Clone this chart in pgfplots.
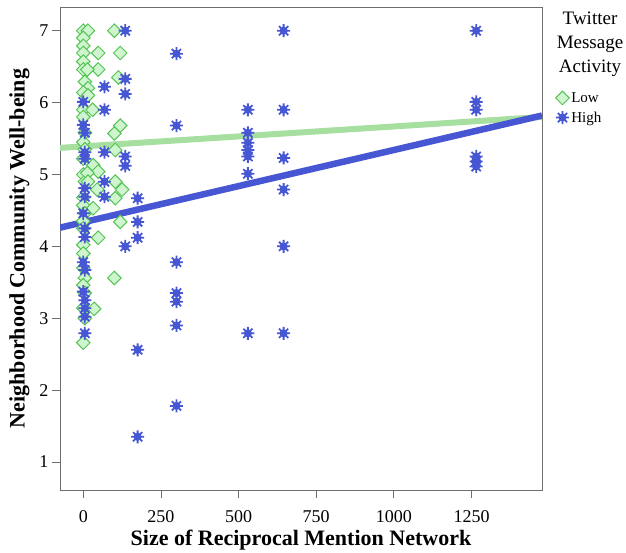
\documentclass[border=0pt]{standalone}
\usepackage{fontspec}
\setmainfont{Liberation Serif}
\usepackage{pgfplots}
\pgfplotsset{compat=1.18}
\definecolor{lowfill}{HTML}{CFF5CF}
\definecolor{lowedge}{HTML}{55C455}
\definecolor{lowline}{HTML}{A6DFA0}
\definecolor{highblue}{HTML}{4756D2}
\definecolor{frame}{HTML}{6E6E6E}

\pgfdeclareplotmark{sun}{%
  \pgfpathcircle{\pgfpointorigin}{0.62\pgfplotmarksize}%
  \pgfusepathqfill
  \foreach \a in {0,45,...,315}{%
    \pgfpathmoveto{\pgfpointorigin}%
    \pgfpathlineto{\pgfpointpolar{\a}{\pgfplotmarksize}}}%
  \pgfusepathqstroke}

\begin{document}
\begin{tikzpicture}
\begin{axis}[
    scale only axis,
    width=482pt, height=483pt,
    xmin=-75, xmax=1477,
    ymin=0.61, ymax=7.33,
    xtick={0,250,500,750,1000,1250},
    ytick={1,2,3,4,5,6,7},
    xtick pos=bottom, ytick pos=left,
    tick align=outside,
    major tick length=8pt,
    tick style={frame, line width=0.8pt},
    axis line style={frame, line width=0.8pt},
    /pgf/number format/assume math mode=true,
    /pgf/number format/1000 sep={},
    tick label style={font=\fontsize{18}{20}\selectfont},
    xticklabel style={yshift=-9pt},
    xlabel={\textbf{Size of Reciprocal Mention Network}},
    ylabel={\textbf{Neighborhood Community Well-being}},
    label style={font=\fontsize{22}{24}\selectfont},
    xlabel style={yshift=0pt},
    ylabel style={yshift=3pt},
    legend style={at={(rel axis cs:1.028,0.828)}, anchor=north west,
        draw=none, fill=none, font=\fontsize{15}{17}\selectfont,
        row sep=4pt, inner sep=0pt},
    legend cell align=left,
    clip=true,
]
% Low activity
\addplot[only marks, mark=square*, mark size=4.8pt,
    mark options={fill=lowfill, draw=lowedge, line width=1pt, rotate=45}]
coordinates {
 (0,7.0) (15,7.0) (0,6.9) (0,6.79) (0,6.69) (0,6.57) (0,6.46) (5,6.29)
 (15,6.2) (0,6.14) (15,6.1) (0,5.9) (30,5.9) (0,5.8) (5,5.58) (0,5.45)
 (5,5.35) (0,5.22) (0,5.0) (5,4.9) (0,4.68) (0,4.57) (5,4.46) (0,4.35)
 (0,4.25) (0,4.02) (0,3.9) (0,3.7) (5,3.56) (0,3.46) (5,3.35) (0,3.14)
 (5,3.0) (0,2.66)
 (100,7.0) (48,6.69) (119,6.69) (48,6.46) (13,6.46) (113,6.35) (119,5.68)
 (100,5.57) (103,5.34) (32,5.13) (48,5.04) (103,4.90) (125,4.79) (103,4.67)
 (45,4.79) (13,5.02) (32,4.53) (119,4.34) (48,4.12) (100,3.56) (35,3.13)
 (15,4.9)
};
\addlegendentry{Low}
% High activity
\addplot[only marks, mark=sun, mark size=6.5pt,
    mark options={fill=highblue, draw=highblue, line width=1.8pt}]
coordinates {
 (0,6.01) (0,5.69) (5,5.58) (5,5.31) (5,5.22) (5,4.81) (5,4.69) (0,4.46)
 (5,4.25) (5,4.13) (0,3.78) (5,3.67) (0,3.37) (5,3.25) (5,3.14) (5,3.02)
 (5,2.79)
 (68,6.22) (68,5.90) (68,5.31) (68,4.90) (68,4.69)
 (135,7.0) (135,6.33) (135,6.12) (135,5.25) (135,5.12) (135,4.0)
 (175,4.67) (175,4.34) (175,4.12) (175,2.56) (175,1.35)
 (300,6.68) (300,5.68) (300,3.78) (300,3.35) (300,3.23) (300,2.90) (300,1.78)
 (530,5.90) (530,5.58) (530,5.44) (530,5.34) (530,5.25) (530,5.01) (530,2.79)
 (645,7.0) (645,5.90) (645,5.23) (645,4.79) (645,4.0) (645,2.79)
 (1265,7.0) (1265,6.01) (1265,5.90) (1265,5.25) (1265,5.18) (1265,5.11)
};
\addlegendentry{High}
% fit lines
\addplot[lowline, line width=6pt, forget plot] coordinates {(-75,5.37) (1477,5.80)};
\addplot[highblue, line width=6.5pt, forget plot] coordinates {(-75,4.26) (1477,5.82)};
\end{axis}
\node[anchor=north, align=center, font=\fontsize{19}{24}\selectfont]
  at (530pt,482pt) {Twitter\\Message\\Activity};
\pgfresetboundingbox
\path (-60pt,-62pt) rectangle (566pt,490pt);
\end{tikzpicture}
\end{document}
